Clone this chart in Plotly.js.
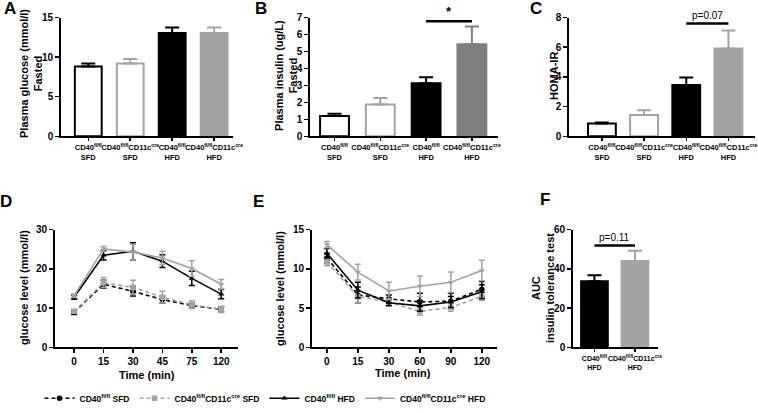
<!DOCTYPE html>
<html>
<head>
<meta charset="utf-8">
<script src="https://cdn.plot.ly/plotly-3.0.1.min.js"></script>
<style>html,body{margin:0;padding:0;background:#fff}#chart{width:758px;height:413px}</style>
</head>
<body>
<div id="chart"></div>
<script>
// ---------- data ----------
const groups4 = ['CD40<sup>fl/fl</sup><br>SFD', 'CD40<sup>fl/fl</sup>CD11c<sup>cre</sup><br>SFD', 'CD40<sup>fl/fl</sup><br>HFD', 'CD40<sup>fl/fl</sup>CD11c<sup>cre</sup><br>HFD'];
const groups2 = ['CD40<sup>fl/fl</sup><br>HFD', 'CD40<sup>fl/fl</sup>CD11c<sup>cre</sup><br>HFD'];

const glucoseFasted = [8.8, 9.2, 13.05, 13.05];
const glucoseFastedErr = [0.38, 0.55, 0.7, 0.7];
const insulinFasted = [1.2, 1.88, 3.12, 5.43];
const insulinFastedErr = [0.13, 0.37, 0.36, 1.04];
const homaIR = [0.86, 1.43, 3.46, 5.92];
const homaIRErr = [0.07, 0.32, 0.5, 1.21];
const ittAUC = [33.8, 44.1];
const ittAUCErr = [3.0, 5.2];

const gttTimes = ['0', '15', '30', '45', '75', '120'];
const gttSfdFl = [9.0, 16.1, 14.3, 12.2, 10.7, 9.7];
const gttSfdFlErr = [0.6, 1.0, 1.2, 0.9, 0.7, 0.6];
const gttSfdCre = [9.2, 16.5, 15.3, 12.8, 10.9, 9.7];
const gttSfdCreErr = [0.5, 1.3, 1.8, 1.5, 1.0, 0.8];
const gttHfdFl = [12.8, 23.5, 24.5, 22.0, 17.6, 13.6];
const gttHfdFlErr = [0.5, 1.2, 2.2, 1.6, 1.8, 1.2];
const gttHfdCre = [13.2, 25.1, 24.3, 22.8, 20.1, 16.1];
const gttHfdCreErr = [0.4, 0.6, 2.0, 1.7, 2.0, 1.2];

const ittTimes = ['0', '15', '30', '60', '90', '120'];
const ittSfdFl = [11.4, 6.7, 6.2, 5.8, 5.9, 7.4];
const ittSfdFlErr = [0.6, 1.0, 0.5, 1.1, 1.0, 1.0];
const ittSfdCre = [10.9, 6.5, 5.8, 4.6, 5.1, 6.5];
const ittSfdCreErr = [0.5, 0.8, 0.4, 0.5, 0.5, 0.5];
const ittHfdFl = [12.0, 7.3, 5.7, 5.3, 5.8, 7.1];
const ittHfdFlErr = [0.6, 1.0, 0.4, 0.7, 0.7, 0.9];
const ittHfdCre = [13.1, 9.6, 7.2, 7.8, 8.3, 9.8];
const ittHfdCreErr = [0.4, 1.0, 1.1, 1.3, 1.3, 1.3];

const seriesNames = ['CD40<sup>fl/fl</sup> SFD', 'CD40<sup>fl/fl</sup>CD11c<sup>cre</sup> SFD', 'CD40<sup>fl/fl</sup> HFD', 'CD40<sup>fl/fl</sup>CD11c<sup>cre</sup> HFD'];

// ---------- styles ----------
const FONT = 'Liberation Sans, Arial, sans-serif';
const BLACK = '#000000';
const GREY = '#a3a3a3';
const DARKGREY = '#7f7f7f';
const W = 758, H = 413;
const px = v => v / W;
const py = v => 1 - v / H;

const barFill4 = ['#ffffff', '#ffffff', BLACK, GREY];
const barEdge4 = [BLACK, GREY, BLACK, GREY];
const barFillB = ['#ffffff', '#ffffff', BLACK, DARKGREY];
const barEdgeB = [BLACK, GREY, BLACK, DARKGREY];

const traces = [];
function addBars(cats, vals, errs, fills, edges, xa, ya, width) {
  cats.forEach((c, i) => {
    traces.push({
      type: 'bar', x: [c], y: [vals[i]], xaxis: xa, yaxis: ya, width: width,
      marker: {color: fills[i], line: {color: edges[i], width: 2}},
      error_y: {type: 'data', symmetric: false, array: [errs[i]], arrayminus: [0], color: edges[i], thickness: 2, width: 7},
      showlegend: false, hoverinfo: 'skip'
    });
  });
}
addBars(groups4, glucoseFasted, glucoseFastedErr, barFill4, barEdge4, 'x', 'y', 0.64);
addBars(groups4, insulinFasted, insulinFastedErr, barFillB, barEdgeB, 'x2', 'y2', 0.63);
addBars(groups4, homaIR, homaIRErr, barFill4, barEdge4, 'x3', 'y3', 0.66);
addBars(groups2, ittAUC, ittAUCErr, [BLACK, GREY], [BLACK, GREY], 'x6', 'y6', 0.66);

const lineStyles = [
  {color: BLACK, dash: '4px,3px', symbol: 'circle'},
  {color: GREY, dash: '4px,3px', symbol: 'square'},
  {color: BLACK, dash: 'solid', symbol: 'triangle-up'},
  {color: GREY, dash: 'solid', symbol: 'triangle-down'}
];
function addLines(times, sets, xa, ya, legend) {
  sets.forEach((s, i) => {
    const st = lineStyles[i];
    traces.push({
      type: 'scatter', mode: 'lines+markers', x: times, y: s[0], xaxis: xa, yaxis: ya,
      name: seriesNames[i], showlegend: legend, cliponaxis: false,
      line: {color: st.color, dash: st.dash, width: 1.6},
      marker: {color: st.color, symbol: st.symbol, size: 5.5},
      error_y: {type: 'data', array: s[1], color: st.color, thickness: 1.5, width: 3},
      hoverinfo: 'skip'
    });
  });
}
addLines(gttTimes, [[gttSfdFl, gttSfdFlErr], [gttSfdCre, gttSfdCreErr], [gttHfdFl, gttHfdFlErr], [gttHfdCre, gttHfdCreErr]], 'x4', 'y4', true);
addLines(ittTimes, [[ittSfdFl, ittSfdFlErr], [ittSfdCre, ittSfdCreErr], [ittHfdFl, ittHfdFlErr], [ittHfdCre, ittHfdCreErr]], 'x5', 'y5', false);

// ---------- axes ----------
function ax(extra) {
  return Object.assign({
    showline: true, linecolor: BLACK, linewidth: 1.8, mirror: false,
    ticks: 'outside', ticklen: 4, tickwidth: 1.5, tickcolor: BLACK,
    showgrid: false, zeroline: false, fixedrange: true, automargin: false,
    tickfont: {family: FONT, size: 10, color: BLACK, weight: 700}
  }, extra);
}
const barTickFont = {family: FONT, size: 7.5, color: BLACK, weight: 700};
const titleFont = {family: FONT, size: 11, color: BLACK, weight: 700};
const topDom = [py(140), py(18)];
const botDom = [py(357), py(236)];
const barX = {type: 'category', categoryorder: 'array', tickangle: 0, tickfont: barTickFont, ticklen: 3};

const layout = {
  width: W, height: H,
  margin: {l: 0, r: 0, t: 0, b: 0},
  paper_bgcolor: '#fff', plot_bgcolor: 'rgba(0,0,0,0)',
  barmode: 'overlay',
  showlegend: true,
  legend: {orientation: 'h', x: px(265), xanchor: 'center', y: py(424), yanchor: 'bottom',
    font: {family: FONT, size: 8.5, color: BLACK, weight: 700}, bgcolor: 'rgba(0,0,0,0)', tracegroupgap: 0},
  xaxis: ax(Object.assign({}, barX, {domain: [px(61), px(233)], anchor: 'y', categoryarray: groups4, range: [-0.65, 3.45]})),
  yaxis: ax({domain: topDom, anchor: 'x', range: [0, 15], tickvals: [0, 5, 10, 15]}),
  xaxis2: ax(Object.assign({}, barX, {domain: [px(310), px(498)], anchor: 'y2', categoryarray: groups4, range: [-0.535, 3.57]})),
  yaxis2: ax({domain: topDom, anchor: 'x2', range: [0, 7], dtick: 1}),
  xaxis3: ax(Object.assign({}, barX, {domain: [px(569), px(755)], anchor: 'y3', categoryarray: groups4, range: [-0.78, 3.63]})),
  yaxis3: ax({domain: topDom, anchor: 'x3', range: [0, 8], dtick: 2}),
  xaxis4: ax({domain: [px(55), px(238)], anchor: 'y4', type: 'category', range: [-0.65, 5.57]}),
  yaxis4: ax({domain: botDom, anchor: 'x4', range: [0, 30], dtick: 10}),
  xaxis5: ax({domain: [px(312), px(497)], anchor: 'y5', type: 'category', range: [-0.48, 5.49]}),
  yaxis5: ax({domain: botDom, anchor: 'x5', range: [0, 15], dtick: 5}),
  xaxis6: ax(Object.assign({}, barX, {domain: [px(573), px(658)], anchor: 'y6', categoryarray: groups2, range: [-0.53, 1.57],
    tickfont: {family: FONT, size: 7, color: BLACK, weight: 700}})),
  yaxis6: ax({domain: botDom, anchor: 'x6', range: [0, 60], dtick: 20}),
  shapes: [
    {type: 'line', xref: 'x2', yref: 'y2', x0: 2, x1: 3, y0: 6.78, y1: 6.78, line: {color: BLACK, width: 2.5}},
    {type: 'line', xref: 'x3', yref: 'y3', x0: 2, x1: 3, y0: 7.6, y1: 7.6, line: {color: BLACK, width: 2.5}},
    {type: 'line', xref: 'x6', yref: 'y6', x0: 0, x1: 1, y0: 52, y1: 52, line: {color: BLACK, width: 2.5}}
  ],
  annotations: []
};

const ann = layout.annotations;
ann.push(
  {xref: 'x2', yref: 'y2', x: 2.5, y: 6.78, yanchor: 'bottom', showarrow: false, text: '*', font: {family: FONT, size: 13, color: BLACK, weight: 700}},
  {xref: 'x3', yref: 'y3', x: 2.5, y: 7.6, yanchor: 'bottom', showarrow: false, text: 'p=0.07', font: {family: FONT, size: 10, color: BLACK}},
  {xref: 'x6', yref: 'y6', x: 0.5, y: 52, yanchor: 'bottom', showarrow: false, text: 'p=0.11', font: {family: FONT, size: 10, color: BLACK}}
);
// panel letters
[['A', 10, 9], ['B', 261, 9], ['C', 536, 9], ['D', 6, 207], ['E', 258, 207], ['F', 545, 205]].forEach(l => {
  ann.push({xref: 'paper', yref: 'paper', x: px(l[1]), y: py(l[2]), xanchor: 'center', yanchor: 'middle', showarrow: false, text: l[0],
    font: {family: FONT, size: 17, color: BLACK, weight: 700}});
});
// axis titles
[['Plasma glucose (mmol/l)<br>Fasted', 31, 76], ['Plasma insulin (ug/L)<br>Fasted', 286, 78], ['HOMA-IR', 554, 78],
 ['glucose level (mmol/l)', 24, 296], ['glucose level (mmol/l)', 280, 297], ['AUC<br>insulin tolerance test', 543, 296]].forEach(t => {
  ann.push({xref: 'paper', yref: 'paper', x: px(t[1]), y: py(t[2]), xanchor: 'center', yanchor: 'middle', textangle: -90, showarrow: false,
    text: t[0], font: titleFont});
});
[['Time (min)', 147, 385], ['Time (min)', 403, 383]].forEach(t => {
  ann.push({xref: 'paper', yref: 'paper', x: px(t[1]), y: py(t[2]), xanchor: 'center', yanchor: 'middle', showarrow: false,
    text: t[0], font: titleFont});
});

Plotly.newPlot('chart', traces, layout, {staticPlot: true, displayModeBar: false});
</script>
</body>
</html>
